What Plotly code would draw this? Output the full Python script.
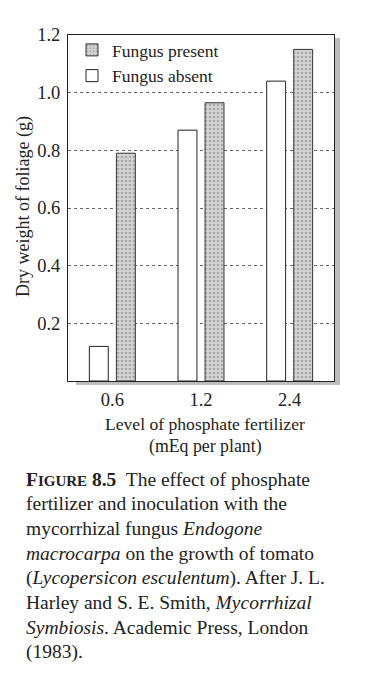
import plotly.graph_objects as go

# ---- data ----
levels = ["0.6", "1.2", "2.4"]
fungus_absent = [0.12, 0.87, 1.04]
fungus_present = [0.79, 0.965, 1.15]
y_ticks = [0.2, 0.4, 0.6, 0.8, 1.0, 1.2]
y_tick_labels = ["0.2", "0.4", "0.6", "0.8", "1.0", "1.2"]

caption_lines = [
    "<b>F<span style='font-size:15px'>IGURE</span> 8.5</b>  The effect of phosphate",
    "fertilizer and inoculation with the",
    "mycorrhizal fungus <i>Endogone</i>",
    "<i>macrocarpa</i> on the growth of tomato",
    "(<i>Lycopersicon esculentum</i>). After J. L.",
    "Harley and S. E. Smith, <i>Mycorrhizal</i>",
    "<i>Symbiosis</i>. Academic Press, London",
    "(1983).",
]

FONT = "Liberation Serif, Times New Roman, serif"
INK = "#222222"

# page has an 8px body margin; work in page pixel coordinates
OFF = 8
W, H = 379 - OFF, 682 - OFF
L, R, T, B = 68, 334, 35, 381          # plot area in page px
pw, ph = R - L, B - T


def px_x(x):
    return (x - L) / pw


def px_y(y):
    return (B - y) / ph


fig = go.Figure()
fig.add_trace(go.Bar(
    x=levels, y=fungus_absent, name="Fungus absent",
    marker=dict(color="white", line=dict(color=INK, width=1)),
))
fig.add_trace(go.Bar(
    x=levels, y=fungus_present, name="Fungus present",
    marker=dict(color="#d4d4d4", line=dict(color="#333333", width=1),
                pattern=dict(shape=".", fgcolor="#7a7a7a", size=4, solidity=0.35)),
))

fig.update_layout(
    width=W, height=H,
    margin=dict(l=L - OFF, r=379 - R, t=T - OFF, b=682 - B, pad=0),
    paper_bgcolor="white", plot_bgcolor="white",
    font=dict(family=FONT, size=17, color=INK),
    barmode="group", bargap=0.39, bargroupgap=0.3,
    showlegend=True,
    legend=dict(x=px_x(72), y=px_y(32), xanchor="left", yanchor="top",
                traceorder="reversed", bgcolor="rgba(0,0,0,0)",
                font=dict(size=17.5, family=FONT, color=INK),
                tracegroupgap=2),
)

fig.update_xaxes(
    type="category", showgrid=False, showline=True, mirror=True,
    linecolor=INK, linewidth=1, ticks="", ticklabelstandoff=2,
    tickfont=dict(size=18.5, family=FONT, color=INK),
)
fig.update_yaxes(
    range=[0, 1.2], tickvals=y_ticks, ticktext=y_tick_labels,
    showgrid=True, gridcolor="#666666", gridwidth=1, griddash="dot",
    showline=True, mirror=True, linecolor=INK, linewidth=1,
    ticks="", ticklabelstandoff=3, zeroline=False,
    tickfont=dict(size=18.5, family=FONT, color=INK),
)

# drop shadow of the frame
shadow = "#bdbdbd"
fig.add_shape(type="rect", xref="paper", yref="paper",
              x0=px_x(335), x1=px_x(340), y0=px_y(385), y1=px_y(38),
              fillcolor=shadow, line_width=0)
fig.add_shape(type="rect", xref="paper", yref="paper",
              x0=px_x(76), x1=px_x(340), y0=px_y(385), y1=px_y(382),
              fillcolor=shadow, line_width=0)

# axis titles
fig.add_annotation(text="Dry weight of foliage (g)", xref="paper", yref="paper",
                   x=px_x(23), y=px_y(207), textangle=-90, showarrow=False,
                   xanchor="center", yanchor="middle",
                   font=dict(size=18, family=FONT, color=INK))
fig.add_annotation(text="Level of phosphate fertilizer", xref="paper", yref="paper",
                   x=px_x(205), y=px_y(424), showarrow=False,
                   xanchor="center", yanchor="middle",
                   font=dict(size=17.6, family=FONT, color=INK))
fig.add_annotation(text="(mEq per plant)", xref="paper", yref="paper",
                   x=px_x(205), y=px_y(446), showarrow=False,
                   xanchor="center", yanchor="middle",
                   font=dict(size=17.8, family=FONT, color=INK))

# caption
cap_y = [479, 503.5, 528, 553, 577.5, 602.5, 627, 651.5]
for txt, yy in zip(caption_lines, cap_y):
    fig.add_annotation(text=txt, xref="paper", yref="paper",
                       x=px_x(24), y=px_y(yy), showarrow=False,
                       xanchor="left", yanchor="middle", align="left",
                       font=dict(size=19.5, family=FONT, color=INK))

fig.write_html("out.html")
